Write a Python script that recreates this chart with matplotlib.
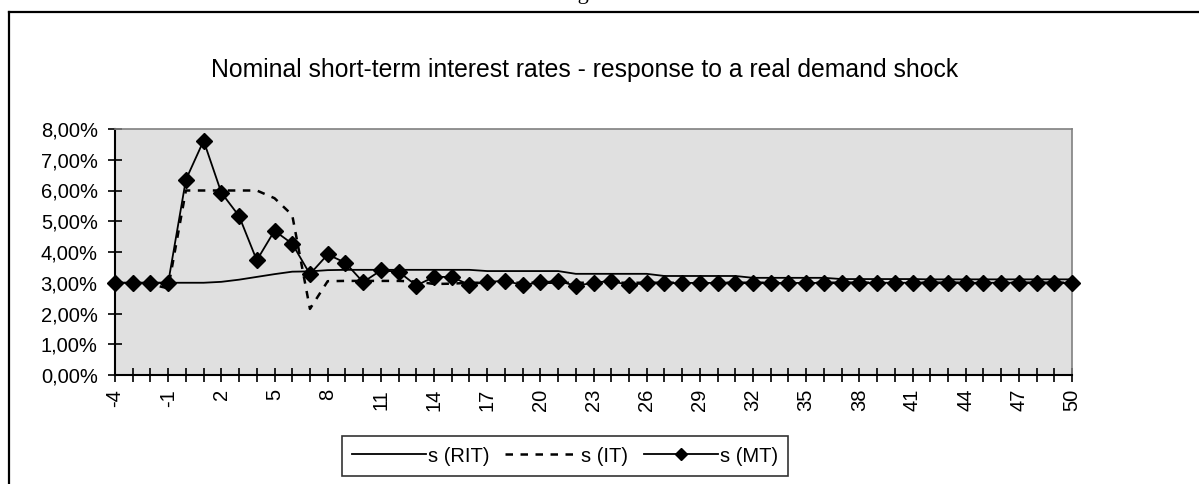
import matplotlib
matplotlib.use("Agg")
import matplotlib.pyplot as plt
from matplotlib.lines import Line2D
from matplotlib.ticker import FuncFormatter, MultipleLocator

periods = list(range(-4, 51))

s_rit = [3.00, 3.00, 3.00, 3.00, 3.00, 3.00, 3.03, 3.10, 3.19, 3.28, 3.36, 3.37, 3.41,
         3.42, 3.42, 3.42, 3.42, 3.42, 3.42, 3.42, 3.42, 3.38, 3.38, 3.38, 3.38, 3.38,
         3.29, 3.29, 3.29, 3.29, 3.29, 3.22, 3.22, 3.22, 3.22, 3.22, 3.16, 3.16, 3.16,
         3.16, 3.16, 3.12, 3.12, 3.12, 3.12, 3.12, 3.11, 3.11, 3.11, 3.11, 3.11, 3.11,
         3.11, 3.11, 3.11]

s_it = [3.00, 3.00, 2.95, 2.82, 6.00, 6.00, 6.00, 6.00, 6.00, 5.75, 5.20, 2.15, 3.05,
        3.06, 3.06, 3.06, 3.06, 3.04, 2.96, 2.97, 3.00, 3.00, 3.00, 3.00, 3.00, 3.00,
        3.00, 3.00, 3.00, 3.00, 3.00, 3.00, 3.00, 3.00, 3.00, 3.00, 3.00, 3.00, 3.00,
        3.00, 3.00, 3.00, 3.00, 3.00, 3.00, 3.00, 3.00, 3.00, 3.00, 3.00, 3.00, 3.00,
        3.00, 3.00, 3.00]

s_mt = [3.00, 3.00, 3.00, 3.00, 6.35, 7.62, 5.93, 5.17, 3.73, 4.69, 4.27, 3.28, 3.92,
        3.65, 3.02, 3.40, 3.36, 2.91, 3.19, 3.19, 2.93, 3.03, 3.06, 2.93, 3.01, 3.06,
        2.90, 3.00, 3.06, 2.92, 3.00, 2.99, 2.99, 3.00, 2.99, 3.00, 2.99, 3.00, 2.99,
        3.00, 2.99, 3.00, 3.00, 3.00, 3.00, 3.00, 3.00, 3.00, 3.00, 3.00, 3.00, 3.00,
        3.00, 3.00, 3.00]

labels = ["s (RIT)", "s (IT)", "s (MT)"]
title = "Nominal short-term interest rates - response to a real demand shock"

FONT = "Liberation Sans"
plt.rcParams['font.family'] = [FONT, 'DejaVu Sans']

W, H = 1199, 484
fig = plt.figure(figsize=(W / 100, H / 100), dpi=100)
fig.patch.set_facecolor("white")

# outer frame (top and left edges visible)
fig.add_artist(Line2D([9 / W, 1.0], [1 - 12 / H, 1 - 12 / H], color="black", lw=1.6,
                      transform=fig.transFigure))
fig.add_artist(Line2D([9 / W, 9 / W], [0.0, 1 - 12 / H], color="black", lw=1.6,
                      transform=fig.transFigure))
# cut-off heading above the frame
fig.text(559 / W, 1 + 1 / H, "Figure", fontsize=16, family="Liberation Serif",
         ha="left", va="baseline")

ax = fig.add_axes([115 / W, 1 - 375 / H, (1072 - 115) / W, (375 - 129) / H])
ax.set_facecolor("#E0E0E0")

ax.plot(periods, s_rit, color="black", lw=1.3, label=labels[0], zorder=3)
ax.plot(periods, s_it, color="black", lw=1.8, ls=(0, (3, 3)), label=labels[1], zorder=3)
ax.plot(periods, s_mt, color="black", lw=1.3, marker="D", markersize=8.5,
        label=labels[2], zorder=4, clip_on=False)

ax.set_xlim(-4, 50)
ax.set_ylim(0, 8)

ax.set_xticks(periods)
ax.set_xticklabels([str(p) if (p + 4) % 3 == 0 else "" for p in periods],
                   rotation=90, fontsize=14.5)
ax.yaxis.set_major_locator(MultipleLocator(1))
ax.yaxis.set_major_formatter(FuncFormatter(lambda v, _: f"{v:.2f}".replace(".", ",") + "%"))
ax.tick_params(axis="y", direction="inout", length=10, width=1.2, labelsize=14.5, pad=7.5)
ax.tick_params(axis="x", direction="inout", length=10, width=1.2, labelsize=14.5, pad=5)

for side in ("top", "right"):
    ax.spines[side].set_color("#808080")
    ax.spines[side].set_linewidth(1.2)
for side in ("left", "bottom"):
    ax.spines[side].set_color("black")
    ax.spines[side].set_linewidth(1.5)

fig.text(585 / W, 1 - 70 / H, title, fontsize=17.8, ha="center", va="center")

leg = fig.legend(loc="center", bbox_to_anchor=(565 / W, 1 - 456 / H), ncol=3,
                 fontsize=14.5, frameon=True, fancybox=False, edgecolor="black",
                 handlelength=3.7, handletextpad=0.1, columnspacing=0.75,
                 borderpad=0.5, markerscale=0.7)
leg.get_frame().set_linewidth(1.2)

fig.savefig("out.png", dpi=100, facecolor="white")
